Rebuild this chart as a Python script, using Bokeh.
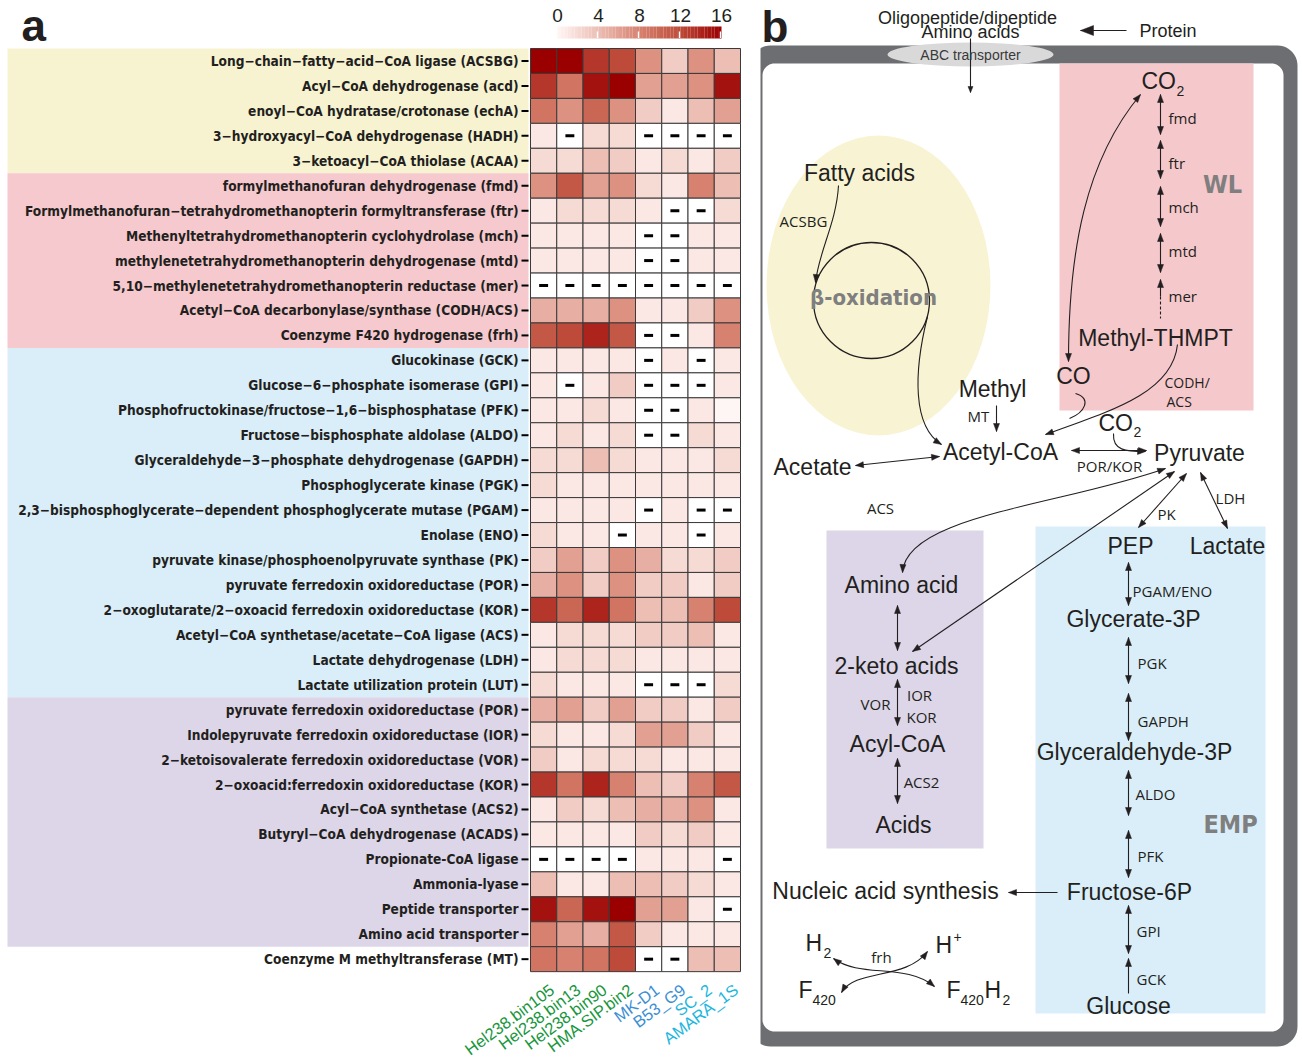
import numpy as np
from bokeh.plotting import figure
from bokeh.models import Range1d, ColumnDataSource, LinearColorMapper
from bokeh.transform import transform
from bokeh.layouts import row
from bokeh.embed import file_html
from bokeh.resources import INLINE
from bokeh.core.properties import value

# ---------------- data ----------------
genes = [
    "Long−chain−fatty−acid−CoA ligase (ACSBG)",
    "Acyl−CoA dehydrogenase (acd)",
    "enoyl−CoA hydratase/crotonase (echA)",
    "3−hydroxyacyl−CoA dehydrogenase (HADH)",
    "3−ketoacyl−CoA thiolase (ACAA)",
    "formylmethanofuran dehydrogenase (fmd)",
    "Formylmethanofuran−tetrahydromethanopterin formyltransferase (ftr)",
    "Methenyltetrahydromethanopterin cyclohydrolase (mch)",
    "methylenetetrahydromethanopterin dehydrogenase (mtd)",
    "5,10−methylenetetrahydromethanopterin reductase (mer)",
    "Acetyl−CoA decarbonylase/synthase (CODH/ACS)",
    "Coenzyme F420 hydrogenase (frh)",
    "Glucokinase (GCK)",
    "Glucose−6−phosphate isomerase (GPI)",
    "Phosphofructokinase/fructose−1,6−bisphosphatase (PFK)",
    "Fructose−bisphosphate aldolase (ALDO)",
    "Glyceraldehyde−3−phosphate dehydrogenase (GAPDH)",
    "Phosphoglycerate kinase (PGK)",
    "2,3−bisphosphoglycerate−dependent phosphoglycerate mutase (PGAM)",
    "Enolase (ENO)",
    "pyruvate kinase/phosphoenolpyruvate synthase (PK)",
    "pyruvate ferredoxin oxidoreductase (POR)",
    "2−oxoglutarate/2−oxoacid ferredoxin oxidoreductase (KOR)",
    "Acetyl−CoA synthetase/acetate−CoA ligase (ACS)",
    "Lactate dehydrogenase (LDH)",
    "Lactate utilization protein (LUT)",
    "pyruvate ferredoxin oxidoreductase (POR)",
    "Indolepyruvate ferredoxin oxidoreductase (IOR)",
    "2−ketoisovalerate ferredoxin oxidoreductase (VOR)",
    "2−oxoacid:ferredoxin oxidoreductase (KOR)",
    "Acyl−CoA synthetase (ACS2)",
    "Butyryl−CoA dehydrogenase (ACADS)",
    "Propionate-CoA ligase",
    "Ammonia-lyase",
    "Peptide transporter",
    "Amino acid transporter",
    "Coenzyme M methyltransferase (MT)",
]
samples = ["Hel238.bin105", "Hel238.bin13", "Hel238.bin90", "HMA.SIP.bin2",
           "MK-D1", "B53_G9", "SC_2", "AMARA_1S"]
sample_colors = ["#17963c", "#17963c", "#17963c", "#17963c",
                 "#3d8fd4", "#3d8fd4", "#1cb6de", "#1cb6de"]
N = None
expr = [
    [16, 16, 13, 12, 7, 3, 7, 4],
    [13, 9, 15, 16, 6, 6, 7, 15],
    [9, 7, 10, 7, 3, 1, 4, 6],
    [1, N, 2, 2, N, N, N, N],
    [2, 2, 4, 3, 1, 2, 1, 3],
    [7, 11, 6, 7, 2, 1, 8, 4],
    [1, 2, 2, 2, 1, N, N, 2],
    [1, 1, 1, 1, N, N, 1, 1],
    [1, 1, 1, 1, N, N, 1, 1],
    [N, N, N, N, N, N, N, N],
    [5, 5, 5, 7, 1, 1, 3, 7],
    [11, 12, 14, 11, N, N, 1, 8],
    [1, 1, 1, 1, N, 1, N, 1],
    [1, N, 1, 3, N, N, N, 1],
    [1, 1, 2, 1, N, N, 1, 0],
    [1, 2, 1, 2, N, N, 2, 1],
    [2, 2, 4, 2, 1, 1, 1, 2],
    [2, 1, 1, 1, 1, 1, 1, 1],
    [1, 1, 1, 1, N, 1, N, N],
    [2, 1, 1, N, 1, 1, N, 1],
    [3, 6, 3, 7, 5, 2, 2, 3],
    [5, 7, 3, 7, 3, 3, 1, 3],
    [13, 10, 14, 9, 4, 4, 8, 12],
    [1, 2, 2, 2, 3, 3, 4, 1],
    [1, 2, 2, 2, 1, 1, 1, 1],
    [2, 1, 1, 1, N, N, N, 2],
    [5, 6, 3, 6, 3, 3, 1, 3],
    [2, 1, 1, 2, 6, 6, 3, 1],
    [3, 1, 2, 2, 2, 1, 1, 1],
    [13, 9, 14, 8, 4, 3, 8, 11],
    [1, 3, 2, 4, 5, 5, 7, 1],
    [1, 1, 1, 1, 3, 2, 3, 1],
    [N, N, N, N, 1, 1, 1, N],
    [4, 1, 1, 4, 4, 3, 2, 1],
    [15, 10, 15, 16, 6, 6, 1, N],
    [8, 6, 5, 11, 3, 1, 1, 1],
    [9, 8, 9, 12, N, N, 4, 4],
]
group_sizes = [5, 7, 14, 10]
group_colors = ["#f7f3d1", "#f5c9cd", "#d9eef9", "#dcd6e8"]
cb_ticks = [0, 4, 8, 12, 16]
vmin, vmax = 0, 16

DARK = "#231f20"
COND = "DejaVu Sans Condensed, DejaVu Sans"

# ---------------- palette ----------------
anch_v = [0, 1, 4, 8, 12, 16]
anch_rgb = [(254, 246, 244), (251, 232, 228), (236, 190, 180),
            (215, 130, 112), (190, 75, 58), (155, 0, 0)]
tt = np.linspace(vmin, vmax, 256)
palette = []
for t in tt:
    rgb = [int(round(np.interp(t, anch_v, [c[k] for c in anch_rgb]))) for k in range(3)]
    palette.append("#%02x%02x%02x" % tuple(rgb))
mapper = LinearColorMapper(palette=palette, low=vmin, high=vmax, nan_color="white")

# ---------------- page geometry (reference pixels) ----------------
W1, W2, H = 760, 538, 1060
CW, CH = 26.25, 24.95     # cell size
GX, GY = 530, 48          # grid origin


def fx(px):
    return (px - GX) / CW


def fy(py):
    return (py - GY) / CH


# ---------------- heatmap panel ----------------
p1 = figure(width=W1, height=H, output_backend="svg", toolbar_location=None,
            x_range=Range1d(fx(0), fx(W1)), y_range=Range1d(fy(H), fy(0)),
            x_axis_location=None, y_axis_location=None, min_border=0)
p1.outline_line_color = None
p1.grid.visible = False
p1.background_fill_color = "white"

nrows, ncols = len(genes), len(samples)

ends = np.cumsum(group_sizes)
starts = ends - np.array(group_sizes)
p1.quad(left=fx(7), right=fx(528), top=starts, bottom=ends,
        fill_color=group_colors, line_color=None)

arr = np.array(expr, dtype=float)
xs, ys, vs = [], [], []
for r in range(nrows):
    for c in range(ncols):
        xs.append(c + 0.5)
        ys.append(r + 0.5)
        vs.append(arr[r, c])
src = ColumnDataSource(dict(x=xs, y=ys, v=vs))
p1.rect(x="x", y="y", width=1, height=1, source=src,
        fill_color=transform("v", mapper), line_color="#3a3a3a", line_width=1)

nx = [xs[i] for i in range(len(vs)) if np.isnan(vs[i])]
ny = [ys[i] for i in range(len(vs)) if np.isnan(vs[i])]
p1.rect(x=nx, y=ny, width=0.34, height=3, height_units="screen",
        fill_color="black", line_color=None)

rc = [r + 0.5 for r in range(nrows)]
p1.segment(x0=fx(521), x1=fx(528), y0=rc, y1=rc, line_color="black", line_width=2)
p1.text(x=fx(518), y=rc, text=genes, text_font=value(COND),
        text_font_style="bold", text_font_size="13.6px", text_color=DARK,
        text_align="right", text_baseline="middle")

p1.text(x=[c + 0.62 for c in range(ncols)], y=nrows + 0.35, text=samples,
        angle=0.64, text_font=value("Liberation Sans"), text_font_size="16.5px",
        text_color=sample_colors, text_align="right", text_baseline="top")

# colour bar
cb_x0, cb_x1 = fx(557), fx(721)


def cbx(v):
    return cb_x0 + (v - vmin) / (vmax - vmin) * (cb_x1 - cb_x0)


nst = 48
edges = np.linspace(vmin, vmax, nst + 1)
cb_src = ColumnDataSource(dict(l=[cbx(e) for e in edges[:-1]],
                               r=[cbx(e) + 0.001 for e in edges[1:]],
                               v=list((edges[:-1] + edges[1:]) / 2)))
p1.quad(left="l", right="r", top=fy(26), bottom=fy(38), source=cb_src,
        fill_color=transform("v", mapper), line_color=None)
tk = [t for t in cb_ticks if t > vmin]
p1.segment(x0=[cbx(t) - 0.04 for t in tk], x1=[cbx(t) - 0.04 for t in tk],
           y0=fy(31), y1=fy(37.5), line_color="white", line_width=1.3)
p1.text(x=[cbx(t) for t in cb_ticks], y=fy(15), text=[str(t) for t in cb_ticks],
        text_font=value("Liberation Sans"), text_font_size="19px", text_color=DARK,
        text_align="center", text_baseline="middle")

p1.text(x=[fx(21)], y=[fy(25)], text=["a"], text_font=value("Liberation Sans"),
        text_font_style="bold", text_font_size="44px", text_color=DARK,
        text_align="left", text_baseline="middle")

# ---------------- pathway diagram panel ----------------
p2 = figure(width=W2, height=H, output_backend="svg", toolbar_location=None,
            x_range=Range1d(W1, W1 + W2), y_range=Range1d(H, 0),
            x_axis_location=None, y_axis_location=None, min_border=0)
p2.outline_line_color = None
p2.grid.visible = False
p2.background_fill_color = "white"


def rrect(x0, y0, x1, y1, r, n=12):
    px, py = [], []
    for (cx, cy, a0) in [(x0 + r, y0 + r, 180), (x1 - r, y0 + r, 270),
                         (x1 - r, y1 - r, 0), (x0 + r, y1 - r, 90)]:
        a = np.radians(np.linspace(a0, a0 + 90, n))
        px += list(cx + r * np.cos(a))
        py += list(cy + r * np.sin(a))
    return px, py


ox, oy = rrect(750, 45, 1297, 1046, 20)
ix, iy = rrect(762, 63, 1283, 1031, 12)
p2.patch(ox, oy, fill_color="#6d6e71", line_color=None)
p2.patch(ix, iy, fill_color="white", line_color=None)

p2.ellipse(x=[970], y=[54], width=[166], height=[24], fill_color="#d9d9d9", line_color=None)
p2.ellipse(x=[878], y=[285], width=[224], height=[300], fill_color="#f8f4d3", line_color=None)
p2.quad(left=[1059, 826, 1035], right=[1253, 983, 1265], top=[63, 530, 526],
        bottom=[410, 848, 1013], fill_color=["#f5c8cc", "#dcd6e8", "#d9eef9"], line_color=None)
p2.circle(x=[871], y=[300], radius=[58], fill_color=None, line_color="#231f20", line_width=1.3)

heads_x, heads_y = [], []


def head(tip, frm, L=8.0, Wd=6.0):
    d = np.array(tip, float) - np.array(frm, float)
    d /= np.hypot(*d)
    pp = np.array([-d[1], d[0]])
    t = np.array(tip, float)
    b = t - L * d
    a1 = b + pp * Wd / 2
    a2 = b - pp * Wd / 2
    heads_x.append([t[0], a1[0], a2[0]])
    heads_y.append([t[1], a1[1], a2[1]])


seg = dict(x0=[], y0=[], x1=[], y1=[])


def line(x0, y0, x1, y1, hs=False, he=False, L=8.0, Wd=6.0):
    seg["x0"].append(x0); seg["y0"].append(y0)
    seg["x1"].append(x1); seg["y1"].append(y1)
    if hs:
        head((x0, y0), (x1, y1), L, Wd)
    if he:
        head((x1, y1), (x0, y0), L, Wd)


bez = dict(x0=[], y0=[], x1=[], y1=[], cx0=[], cy0=[], cx1=[], cy1=[])


def curve(p0, c0, c1, p3, hs=False, he=False):
    bez["x0"].append(p0[0]); bez["y0"].append(p0[1])
    bez["cx0"].append(c0[0]); bez["cy0"].append(c0[1])
    bez["cx1"].append(c1[0]); bez["cy1"].append(c1[1])
    bez["x1"].append(p3[0]); bez["y1"].append(p3[1])
    if hs:
        head(p0, c0)
    if he:
        head(p3, c1)


line(1126, 30, 1080, 30, he=True, L=13, Wd=10)
line(970, 38, 970, 92, he=True, L=6, Wd=5)
for a, b in [(94, 134), (140, 178), (186, 226), (233, 272)]:
    line(1160, a, 1160, b, hs=True, he=True)
line(1160, 279, 1160, 296, hs=True)
line(996, 405, 996, 431, he=True)
line(1071, 450, 1146, 450, hs=True, he=True)
line(855, 465, 939, 456, hs=True, he=True)
line(1186, 473, 1138, 527, hs=True, he=True)
line(1200, 472, 1227, 528, hs=True, he=True)
line(1174, 471, 912, 651, hs=True, he=True)
line(897, 605, 897, 650, hs=True, he=True)
line(897, 679, 897, 725, hs=True, he=True)
line(897, 758, 897, 803, hs=True, he=True)
for a, b in [(562, 605), (637, 683), (693, 740), (770, 815), (830, 877), (905, 953)]:
    line(1128, a, 1128, b, hs=True, he=True)
line(1128, 958, 1128, 993, hs=True)
line(1057, 892, 1008, 892, he=True)

curve((838, 185), (836, 222), (818, 252), (815, 282), he=True)
curve((927, 316), (913, 372), (912, 426), (941, 444), he=True)
curve((1068, 361), (1068, 250), (1085, 160), (1140, 94), hs=True, he=True)
curve((1075, 393), (1092, 398), (1084, 412), (1069, 418))
curve((1177, 344), (1172, 392), (1112, 410), (1045, 434), he=True)
curve((1113, 433), (1112, 450), (1125, 451), (1145, 451), he=True)
curve((1165, 468), (1060, 505), (905, 515), (902, 572), hs=True, he=True)
curve((833, 958), (860, 978), (905, 962), (934, 986), hs=True, he=True)
curve((841, 992), (855, 968), (905, 980), (927, 951), hs=True, he=True)

p2.segment(source=ColumnDataSource(seg), x0="x0", y0="y0", x1="x1", y1="y1",
           line_color=DARK, line_width=1.1)
p2.segment(x0=[1160], y0=[296], x1=[1160], y1=[318], line_color=DARK,
           line_width=1.1, line_dash="3 2")
p2.bezier(source=ColumnDataSource(bez), x0="x0", y0="y0", x1="x1", y1="y1",
          cx0="cx0", cy0="cy0", cx1="cx1", cy1="cy1", line_color=DARK, line_width=1.1)
p2.patches(heads_x, heads_y, fill_color=DARK, line_color=DARK, line_width=0.5)


def T(x, y, s, size, align="center", font="Liberation Sans", style="normal",
      color=DARK, baseline="middle"):
    p2.text(x=[x], y=[y], text=[s], text_font=value(font), text_font_size=f"{size}px",
            text_font_style=style, text_color=color, text_align=align,
            text_baseline=baseline)


BIG = 23
for s, x, y in [("Fatty acids", 859, 172), ("Methyl-THMPT", 1155, 337), ("CO", 1073, 375),
                ("Methyl", 992, 388), ("Acetyl-CoA", 1000, 451), ("Pyruvate", 1199, 452),
                ("Acetate", 812, 466), ("Amino acid", 901, 584), ("2-keto acids", 896, 665),
                ("Acyl-CoA", 897, 743), ("Acids", 903, 824), ("PEP", 1130, 545),
                ("Lactate", 1227, 545), ("Glycerate-3P", 1133, 618),
                ("Glyceraldehyde-3P", 1134, 751), ("Fructose-6P", 1129, 891),
                ("Glucose", 1128, 1005), ("Nucleic acid synthesis", 885, 890)]:
    T(x, y, s, BIG)

T(1141, 80, "CO", BIG, align="left"); T(1176, 90, "2", 14, align="left")
T(1098, 422, "CO", BIG, align="left"); T(1133, 431, "2", 14, align="left")
T(805, 942, "H", BIG, align="left"); T(823, 952, "2", 14, align="left")
T(935, 944, "H", BIG, align="left"); T(953, 936, "+", 14, align="left")
T(798, 989, "F", BIG, align="left"); T(812, 999, "420", 14, align="left")
T(946, 989, "F", BIG, align="left"); T(960, 999, "420", 14, align="left")
T(984, 989, "H", BIG, align="left"); T(1002, 999, "2", 14, align="left")

T(967, 17, "Oligopeptide/dipeptide", 18)
T(970, 31, "Amino acids", 18)
T(1139, 30, "Protein", 18, align="left")
T(970, 54, "ABC transporter", 14, color="#3a3a3a")

SM = 15
OS = "Open Sans"
for s, x, y in [("ACSBG", 803, 220), ("MT", 978, 415), ("POR/KOR", 1109, 465),
                ("ACS", 880, 507), ("PK", 1166, 513), ("LDH", 1230, 497),
                ("VOR", 875, 703), ("IOR", 919, 694), ("KOR", 921, 716),
                ("ACS2", 921, 781), ("frh", 881, 956)]:
    T(x, y, s, SM, font=OS)
for s, y in [("fmd", 117), ("ftr", 162), ("mch", 206), ("mtd", 250), ("mer", 295)]:
    T(1168, y, s, SM, align="left", font=OS)
T(1164, 382, "CODH/", 14, align="left", font=OS)
T(1166, 401, "ACS", 14, align="left", font=OS)
for s, x, y in [("PGAM/ENO", 1132, 590), ("PGK", 1137, 662), ("GAPDH", 1137, 720),
                ("ALDO", 1135, 793), ("PFK", 1137, 855), ("GPI", 1136, 930),
                ("GCK", 1136, 978)]:
    T(x, y, s, SM, align="left", font=OS)

T(873, 297, "β-oxidation", 22, font=COND, style="bold", color="#7f7f7f")
T(1222, 184, "WL", 25, font=COND, style="bold", color="#7f7f7f")
T(1230, 824, "EMP", 25, font=COND, style="bold", color="#7f7f7f")

T(761, 26, "b", 44, align="left", style="bold")

layout = row(p1, p2)
open("out.html", "w").write(file_html(layout, INLINE))
